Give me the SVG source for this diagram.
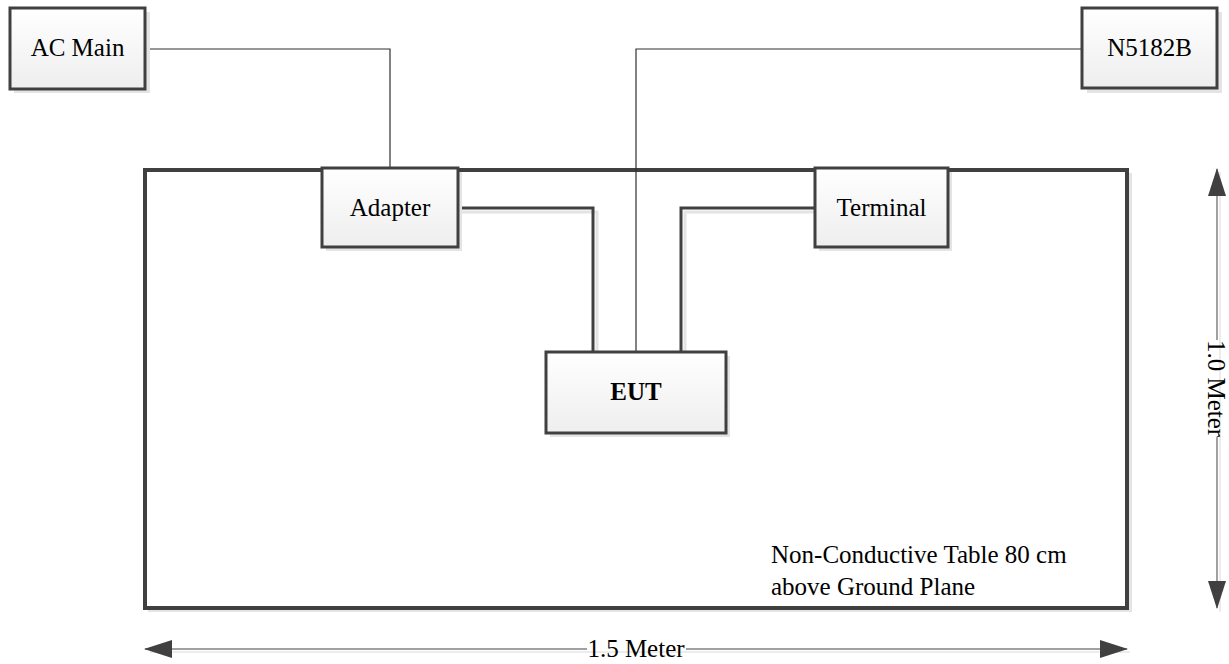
<svg xmlns="http://www.w3.org/2000/svg" width="1229" height="664" viewBox="0 0 1229 664">
  <defs>
    <linearGradient id="boxFill" x1="0" y1="0" x2="0" y2="1">
      <stop offset="0" stop-color="#ffffff"/>
      <stop offset="1" stop-color="#eeeeee"/>
    </linearGradient>
    <marker id="dimHead" viewBox="0 0 28 18" refX="27" refY="9" markerWidth="28" markerHeight="18" markerUnits="userSpaceOnUse" orient="auto-start-reverse">
      <path d="M0,0 L28,9 L0,18 Z" fill="#404040"/>
    </marker>
    <style>
      .box { fill: url(#boxFill); stroke: #404040; stroke-width: 3; }
      .shadow { fill: #e4e4e4; }
      .table { fill: #ffffff; stroke: #404040; stroke-width: 4; }
      .label { font-family: "Liberation Serif", "Times New Roman", serif; font-size: 25px; fill: #000; text-anchor: middle; }
      .note { font-family: "Liberation Serif", "Times New Roman", serif; font-size: 25px; fill: #000; }
      .thin { fill: none; stroke: #303030; stroke-width: 1.2; }
      .thick { fill: none; stroke: #404040; stroke-width: 3; }
      .thickShadow { fill: none; stroke: #e4e4e4; stroke-width: 3; }
      .dim { fill: none; stroke: #808080; stroke-width: 1.5; }
      .dimShadow { fill: none; stroke: #e6e6e6; stroke-width: 1.5; }
    </style>
  </defs>

  <rect width="1229" height="664" fill="#ffffff"/>

  <!-- table outline -->
  <g id="table">
    <rect class="shadow" x="148" y="173" width="984" height="439"/>
    <rect class="table" x="145" y="170" width="982" height="438"/>
    <text class="note" x="771" y="563">Non-Conductive Table 80 cm</text>
    <text class="note" x="771" y="595">above Ground Plane</text>
  </g>

  <!-- cabling -->
  <g id="connectors">
    <!-- shadows of the heavy cables -->
    <polyline class="thickShadow" points="460,212 597,212 597,356"/>
    <polyline class="thickShadow" points="817,212 685,212 685,356"/>
    <!-- AC Main to Adapter -->
    <polyline class="thin" points="145,49 390,49 390,170"/>
    <!-- N5182B to EUT -->
    <polyline class="thin" points="1082,49 636,49 636,352"/>
    <!-- Adapter to EUT -->
    <polyline class="thick" points="458,208 593,208 593,352"/>
    <!-- Terminal to EUT -->
    <polyline class="thick" points="815,208 681,208 681,352"/>
  </g>

  <g id="ac-main">
    <rect class="shadow" x="14" y="12" width="136" height="81"/>
    <rect class="box" x="10" y="8" width="135" height="81"/>
    <text class="label" x="77.5" y="56">AC Main</text>
  </g>

  <g id="n5182b">
    <rect class="shadow" x="1087" y="12" width="135" height="81"/>
    <rect class="box" x="1082" y="8" width="135" height="80"/>
    <text class="label" x="1149.5" y="56">N5182B</text>
  </g>

  <g id="adapter">
    <rect class="shadow" x="326" y="172" width="136" height="79"/>
    <rect class="box" x="322" y="168" width="136" height="79"/>
    <text class="label" x="390" y="216">Adapter</text>
  </g>

  <g id="terminal">
    <rect class="shadow" x="819" y="172" width="133" height="79"/>
    <rect class="box" x="815" y="168" width="133" height="79"/>
    <text class="label" x="881.5" y="216">Terminal</text>
  </g>

  <g id="eut">
    <rect class="shadow" x="550" y="356" width="180" height="81"/>
    <rect class="box" x="546" y="352" width="180" height="81"/>
    <text class="label" x="636" y="400" font-weight="bold">EUT</text>
  </g>

  <!-- dimension lines -->
  <g id="dimensions">
    <line class="dimShadow" x1="150" y1="652" x2="1130" y2="652"/>
    <line class="dim" x1="145" y1="649" x2="587" y2="649" marker-start="url(#dimHead)"/>
    <line class="dim" x1="686" y1="649" x2="1127" y2="649" marker-end="url(#dimHead)"/>
    <text class="note" x="636" y="657" text-anchor="middle">1.5 Meter</text>

    <line class="dimShadow" x1="1220" y1="172" x2="1220" y2="612"/>
    <line class="dim" x1="1217" y1="169" x2="1217" y2="340" marker-start="url(#dimHead)"/>
    <line class="dim" x1="1217" y1="437" x2="1217" y2="608" marker-end="url(#dimHead)"/>
    <text class="note" x="0" y="0" text-anchor="middle" transform="translate(1208,388.5) rotate(90)">1.0 Meter</text>
  </g>
</svg>
